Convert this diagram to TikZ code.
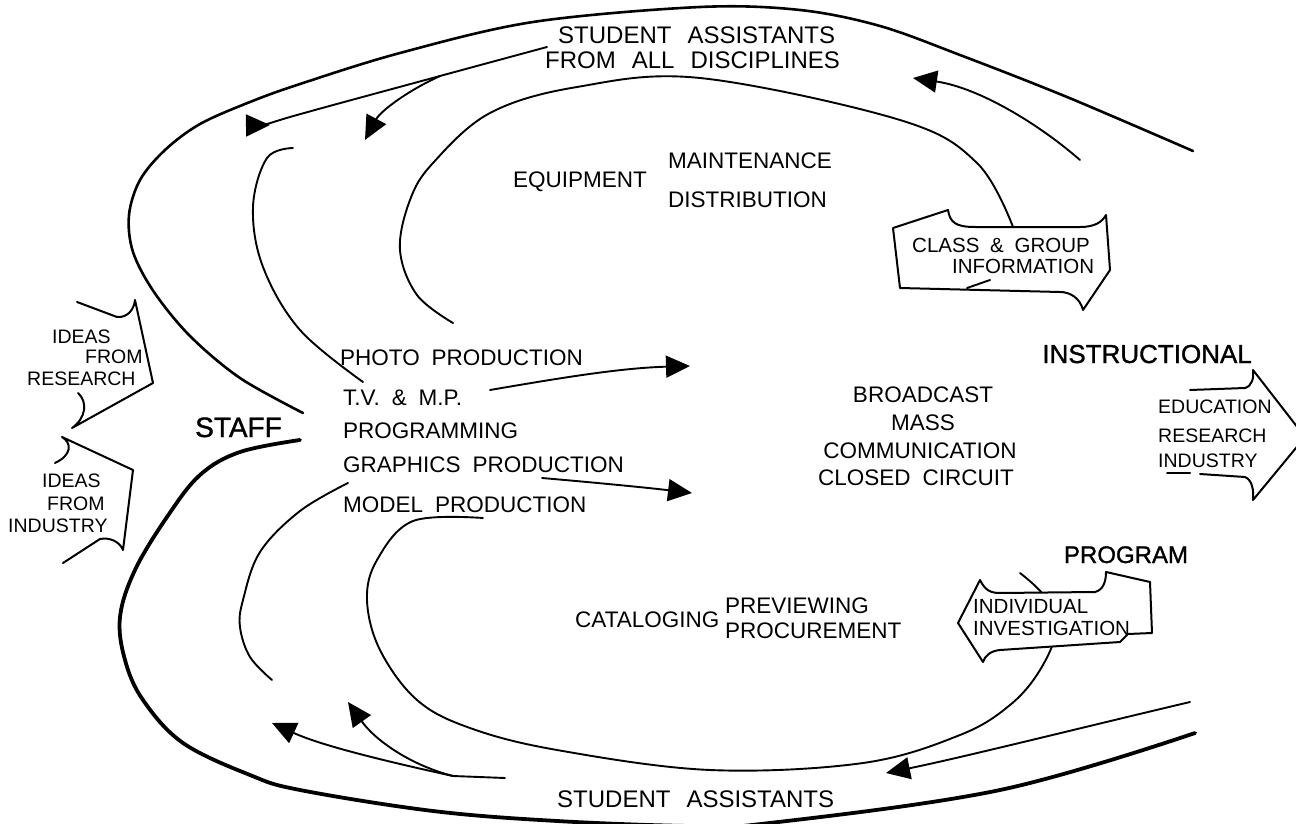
\documentclass[tikz,border=0pt]{standalone}
\usepackage{fontspec}
\setmainfont{Liberation Sans}[WordSpace=1.9]
\newfontfamily\heavyfont{Liberation Sans}[FakeBold=1.2,WordSpace=1.9]
\newfontfamily\widefont{Liberation Sans}[WordSpace=2.4]
\usetikzlibrary{arrows.meta}
\begin{document}
\begin{tikzpicture}[x=1pt,y=-1pt,line cap=round,line join=round,
  thin line/.style={line width=1.9pt},
  mid line/.style={line width=2.6pt},
  thick line/.style={line width=3.8pt},
  tip/.style={-{Triangle[length=24pt,width=22pt]}},
  txt/.style={inner sep=0pt,font=\fontsize{22.5}{26}\selectfont},
  wide/.style={inner sep=0pt,font=\widefont\fontsize{24}{28}\selectfont},
  big/.style={inner sep=0pt,font=\heavyfont\fontsize{28}{32}\selectfont},
  small/.style={inner sep=0pt,font=\fontsize{19.5}{22}\selectfont},
  boxtxt/.style={inner sep=0pt,font=\fontsize{20.5}{24}\selectfont},
  banner/.style={line width=2pt,fill=white}]
\useasboundingbox (0,0) rectangle (1296,824);

% ---------- outer ring, upper half ----------
\draw[mid line] plot[smooth,tension=0.55] coordinates {(303,413) (240,378) (190,336) (154,292) (133,252) (129,215) (140,180) (165,150) (200,124) (250,102) (300,84) (400,53) (533,22) (700,7) (800,10) (880,26) (960,55) (1067,97) (1193,151)};
% ---------- outer ring, lower half ----------
\draw[thick line] plot[smooth,tension=0.6] coordinates {(300,440) (240,452) (200,475) (167,517) (135,570) (120,617) (125,660) (143,700) (183,743) (250,775) (300,790) (433,811) (557,821) (690,826) (761,824) (1000,790) (1195,733)};

% ---------- inner loops ----------
\draw[thin line] plot[smooth,tension=0.6] coordinates {(293,148) (267,158) (253,207) (263,267) (300,330) (363,382)};
\draw[thin line] plot[smooth,tension=0.6] coordinates {(453,323) (417,295) (400,250) (410,200) (433,163) (490,113) (577,87) (700,78) (900,120) (977,163) (1013,227)};
\draw[thin line] plot[smooth,tension=0.6] coordinates {(348,483) (300,511) (260,552) (243,600) (240,627) (250,657) (272,680)};
\draw[thin line] plot[smooth,tension=0.6] coordinates {(483,518) (413,521) (377,560) (367,600) (380,650) (417,700) (470,728) (557,750) (710,770) (863,763) (960,735) (1010,705) (1040,670) (1056,630) (1045,597) (1020,573)};

% ---------- flow arrows ----------
\coordinate (tl0) at (547,47);
\coordinate (tlb) at (440,76);
\draw[thin line,tip] plot[smooth,tension=0.6] coordinates {(tl0) (tlb) (290,117) (270,125)};
\draw[thin line,tip] (tlb) .. controls (405,92) and (380,112) .. (365,140);
\draw[thin line,tip] (1080,160) .. controls (1040,125) and (980,88) .. (913,78);

\coordinate (blb) at (453,776);
\draw[thin line] (505,778) -- (blb);
\draw[thin line,tip] (blb) .. controls (380,760) and (320,745) .. (272,723);
\draw[thin line,tip] (blb) .. controls (410,765) and (375,740) .. (348,702);
\draw[thin line,tip] (1190,702) .. controls (1080,728) and (960,758) .. (886,773);

\draw[thin line,tip] (490,390) .. controls (560,378) and (620,368) .. (690,366);
\draw[thin line,tip] (542,478) .. controls (600,483) and (650,488) .. (692,493);

% ---------- banners ----------
\draw[banner] (893,228) -- (948,210) .. controls (950,222) and (955,227) .. (975,227)
  -- (1080,227) .. controls (1095,227) and (1102,222) .. (1106,215) -- (1110,270) -- (1083,310)
  .. controls (1080,298) and (1070,292) .. (1060,292) -- (900,288) -- cycle;
\draw[thin line] (967,288) -- (990,280);

\draw[banner] (958,623) -- (980,580) .. controls (985,590) and (990,593) .. (1000,593)
  -- (1095,592) .. controls (1103,590) and (1106,582) .. (1106,572) -- (1150,582) -- (1152,633)
  -- (1128,634) -- (1120,642) -- (1000,650) .. controls (990,651) and (985,656) .. (983,662) -- cycle;

\begin{scope}
\clip (0,0) rectangle (1296,824);
\draw[line width=2pt] (1190,390) -- (1245,388) .. controls (1252,386) and (1254,378) .. (1253,370) -- (1305,437) -- (1253,500) .. controls (1254,490) and (1252,480) .. (1245,477) -- (1200,474);
\draw[line width=2pt] (1167,473) -- (1190,473);
\end{scope}

\draw[line width=2pt] (77,302) -- (117,317) .. controls (127,318) and (134,310) .. (135,300) -- (153,383) -- (72,428) .. controls (86,418) and (88,402) .. (78,393);
\draw[line width=2pt] (55,463) .. controls (72,455) and (72,443) .. (62,437) -- (133,470) -- (123,550) .. controls (120,542) and (110,537) .. (100,539) -- (63,563);

% ---------- labels ----------
\node[wide,anchor=base west] (sa1) at (558,44) {STUDENT ASSISTANTS};
\node[wide,anchor=base west] (sa2) at (545,69) {FROM ALL DISCIPLINES};
\node[txt,anchor=base west] (equ) at (513,187) {EQUIPMENT};
\node[txt,anchor=base west] (mai) at (668,168) {MAINTENANCE};
\node[txt,anchor=base west] (dis) at (668,207) {DISTRIBUTION};
\node[txt,anchor=base west] (pho) at (340,365) {PHOTO PRODUCTION};
\node[txt,anchor=base west] (tvm) at (343,405) {T.V. \& M.P.};
\node[txt,anchor=base west] (prg) at (343,438) {PROGRAMMING};
\node[txt,anchor=base west] (gra) at (343,472) {GRAPHICS PRODUCTION};
\node[txt,anchor=base west] (mod) at (343,512) {MODEL PRODUCTION};
\node[big,anchor=base west] (stf) at (195,437) {STAFF};
\node[txt,anchor=base] (br1) at (923,402) {BROADCAST};
\node[txt,anchor=base] (br2) at (923,430) {MASS};
\node[txt,anchor=base] (br3) at (920,458) {COMMUNICATION};
\node[txt,anchor=base] (br4) at (916,485) {CLOSED CIRCUIT};
\node[big,anchor=base east,font=\heavyfont\fontsize{26}{30}\selectfont] (ins) at (1252,363) {INSTRUCTIONAL};
\node[big,anchor=base,font=\heavyfont\fontsize{24}{28}\selectfont] (pro) at (1126,563) {PROGRAM};
\node[txt,anchor=base west] (cat) at (575,627) {CATALOGING};
\node[txt,anchor=base west] (pre) at (725,613) {PREVIEWING};
\node[txt,anchor=base west] (prc) at (725,638) {PROCUREMENT};
\node[wide,anchor=base west] (sb) at (557,807) {STUDENT ASSISTANTS};

\node[boxtxt,anchor=base west] (cg1) at (912,252) {CLASS \& GROUP};
\node[boxtxt,anchor=base west] (cg2) at (952,273) {INFORMATION};
\node[boxtxt,anchor=base west] (iv1) at (973,613) {INDIVIDUAL};
\node[boxtxt,anchor=base west] (iv2) at (973,635) {INVESTIGATION};
\node[small,anchor=base west] (er1) at (1158,413) {EDUCATION};
\node[small,anchor=base west] (er2) at (1158,442) {RESEARCH};
\node[small,anchor=base west] (er3) at (1158,467) {INDUSTRY};

\node[small,anchor=base west] (ir1) at (52,343) {IDEAS};
\node[small,anchor=base west] (ir2) at (85,363) {FROM};
\node[small,anchor=base west] (ir3) at (27,385) {RESEARCH};
\node[small,anchor=base west] (ii1) at (42,487) {IDEAS};
\node[small,anchor=base west] (ii2) at (47,510) {FROM};
\node[small,anchor=base west] (ii3) at (8,532) {INDUSTRY};
\end{tikzpicture}
\end{document}
